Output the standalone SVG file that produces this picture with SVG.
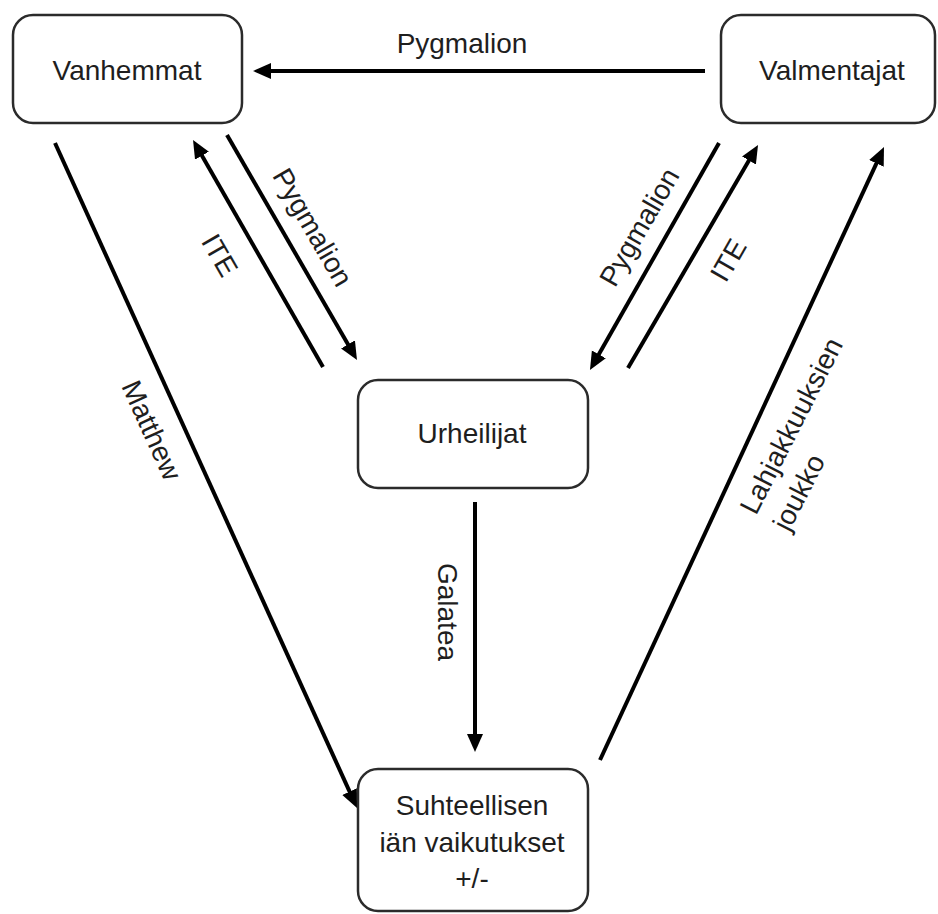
<svg xmlns="http://www.w3.org/2000/svg" width="938" height="914" viewBox="0 0 938 914">
<style>
.box{fill:#fff;stroke:#2b2b2b;stroke-width:2.5}
.t{font-family:"Liberation Sans",Arial,sans-serif;font-size:28px;fill:#1e1e1e;text-anchor:middle}
.l{font-family:"Liberation Sans",Arial,sans-serif;font-size:28px;fill:#1e1e1e}
.c{stroke:#000;stroke-width:4;fill:none;marker-end:url(#ah)}
</style>
<defs>
<marker id="ah" markerUnits="userSpaceOnUse" markerWidth="20" markerHeight="18" refX="8" refY="8" orient="auto">
<path d="M0,0 L18,8 L0,16 z" fill="#000"/>
</marker>
</defs>
<rect width="938" height="914" fill="#fff"/>
<g id="connectors">
<line class="c" x1="705" y1="71" x2="263" y2="71"/>
<line class="c" x1="323" y1="367" x2="198" y2="148.7"/>
<line class="c" x1="227" y1="135" x2="352" y2="351.3"/>
<line class="c" x1="719" y1="143" x2="594.9" y2="361.3"/>
<line class="c" x1="628" y1="368" x2="753" y2="153.6"/>
<line class="c" x1="55" y1="143" x2="352.9" y2="798.9"/>
<line class="c" x1="475" y1="502" x2="475" y2="742"/>
<line class="c" x1="600" y1="760" x2="879.8" y2="156.1"/>
<text class="t" x="462" y="53">Pygmalion</text>
<text class="t" transform="translate(220,255) rotate(60)" dy="10">ITE</text>
<text class="t" transform="translate(313,227) rotate(60)" dy="10">Pygmalion</text>
<text class="t" transform="translate(639,227) rotate(-60)" dy="10">Pygmalion</text>
<text class="t" transform="translate(728,260) rotate(-60)" dy="10">ITE</text>
<text class="t" transform="translate(152,430) rotate(65.6)" dy="10">Matthew</text>
<text class="t" transform="translate(448,612) rotate(90)" dy="10">Galatea</text>
<text class="l" transform="translate(756,516) rotate(-63)"><tspan x="0" y="0">Lahjakkuuksien</tspan><tspan x="0" dy="37">joukko</tspan></text>
</g>
<g id="node-vanhemmat">
<rect class="box" x="13" y="15" width="229" height="108" rx="20"/>
<text class="t" x="127" y="80">Vanhemmat</text>
</g>
<g id="node-valmentajat">
<rect class="box" x="721" y="15" width="214" height="108" rx="20"/>
<text class="t" x="832" y="80">Valmentajat</text>
</g>
<g id="node-urheilijat">
<rect class="box" x="358" y="380" width="230" height="108" rx="20"/>
<text class="t" x="472" y="443">Urheilijat</text>
</g>
<g id="node-suhteellisen">
<rect class="box" x="358" y="769" width="230" height="142" rx="20"/>
<text class="t" x="472" y="815">Suhteellisen</text>
<text class="t" x="472" y="852">iän vaikutukset</text>
<text class="t" x="472" y="888">+/-</text>
</g>
</svg>
